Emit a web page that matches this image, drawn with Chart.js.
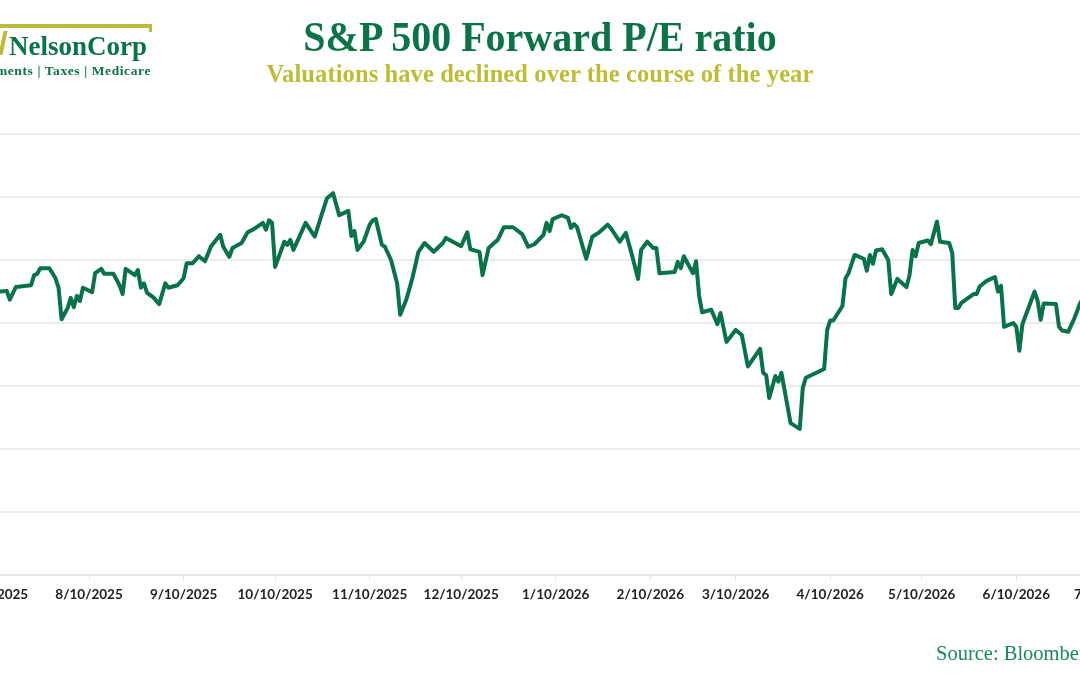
<!DOCTYPE html>
<html>
<head>
<meta charset="utf-8">
<script src="https://cdn.jsdelivr.net/npm/chart.js@4"></script>
<style>
  html, body { margin: 0; padding: 0; background: #fff; }
  body { width: 1080px; height: 675px; position: relative; overflow: hidden;
         font-family: "Liberation Serif", "Times New Roman", serif; }
  #wrap { position: absolute; left: -100px; top: 0; width: 1300px; height: 675px; }
  .txt { position: absolute; white-space: nowrap; font-weight: bold; line-height: 1; }
  #title { left: 0; width: 1080px; text-align: center; top: 17px; font-size: 40px; color: #0b7446;
           transform: scaleY(1.05); }
  #subtitle { left: 0; width: 1080px; text-align: center; top: 62px; font-size: 24.5px; color: #bdbd35;
              letter-spacing: 0.1px; }
  #logoBar { position: absolute; left: 0; top: 24px; width: 152px; height: 4px; background: #bcbc3a; }
  #logoTab { position: absolute; left: 149px; top: 24px; width: 3px; height: 8px; background: #bcbc3a; }
  #logoTick { position: absolute; left: 1px; top: 31px; width: 4px; height: 24px; background: #bcbc3a; transform: skewX(-12deg); }
  #logoName { left: 9px; top: 33px; font-size: 27px; color: #0b7446; }
  #logoSub { right: 929px; top: 64px; font-size: 13.5px; color: #0b7446; letter-spacing: 0.6px; }
  #source { left: 936px; top: 643px; font-size: 20.5px; font-weight: normal; color: #198a58; }
</style>
</head>
<body>
<div id="wrap"><canvas id="peChart" width="1300" height="675"></canvas></div>
<div id="logoBar"></div><div id="logoTab"></div><div id="logoTick"></div>
<div class="txt" id="logoName">NelsonCorp</div>
<div class="txt" id="logoSub">Investments | Taxes | Medicare</div>
<div class="txt" id="title">S&amp;P 500 Forward P/E ratio</div>
<div class="txt" id="subtitle">Valuations have declined over the course of the year</div>
<div class="txt" id="source">Source: Bloomberg</div>
<script>
// calendar days since 7/10/2025
const dayOffsets = [
  -5,2,4,5,7,12,13,14,15,18,
  20,21,22,24,25,26,27,28,29,32,
  33,35,36,39,41,42,43,46,47,48,
  49,50,52,54,56,57,60,62,63,65,
  67,69,71,74,75,77,78,81,83,85,
  88,89,90,91,92,95,96,97,98,102,
  105,107,109,111,113,116,117,118,119,121,
  123,124,125,127,128,130,132,133,135,137,
  139,141,144,147,148,153,155,156,159,160,
  162,165,167,170,173,175,177,180,181,182,
  183,186,188,189,190,191,194,196,198,201,
  202,205,207,209,211,212,214,216,217,218,
  223,224,225,226,229,230,231,232,235,237,
  238,240,243,245,247,251,252,253,254,256,
  257,258,261,264,265,266,272,273,274,275,
  278,279,280,282,285,286,287,288,289,291,
  293,294,296,299,300,301,302,303,306,307,
  309,310,313,314,315,316,317,321,322,323,
  325,328,329,330,331,334,335,336,337,341,
  342,343,344,348,349,350,352,354,356,359,
  362
];
const peValues = [
  19.52,19.50,19.51,19.37,19.57,19.60,19.76,19.78,19.87,19.87,
  19.71,19.56,19.06,19.24,19.40,19.25,19.43,19.35,19.56,19.49,
  19.79,19.86,19.78,19.78,19.60,19.46,19.86,19.76,19.84,19.56,
  19.63,19.48,19.41,19.30,19.63,19.56,19.60,19.71,19.95,19.95,
  20.06,19.98,20.22,20.40,20.21,20.05,20.19,20.27,20.44,20.49,
  20.59,20.48,20.63,20.59,19.89,20.29,20.24,20.32,20.16,20.59,
  20.37,20.68,20.98,21.06,20.71,20.78,20.38,20.46,20.16,20.29,
  20.56,20.63,20.65,20.24,20.21,20.00,19.63,19.13,19.37,19.71,
  20.13,20.27,20.13,20.27,20.35,20.22,20.44,20.17,20.13,19.76,
  20.19,20.32,20.52,20.52,20.41,20.21,20.25,20.40,20.59,20.46,
  20.65,20.71,20.67,20.51,20.57,20.52,20.02,20.37,20.43,20.56,
  20.51,20.29,20.43,20.08,19.70,20.16,20.29,20.19,20.19,19.79,
  19.81,19.97,19.87,20.06,19.79,19.98,19.44,19.17,19.21,18.98,
  19.16,18.70,18.89,18.81,18.31,18.59,18.21,18.17,17.81,18.16,
  18.07,18.21,17.41,17.32,17.97,18.13,18.27,18.89,19.04,19.04,
  19.27,19.71,19.79,20.08,20.02,19.83,20.08,19.94,20.15,20.17,
  20.00,19.46,19.70,19.57,19.76,20.16,20.06,20.27,20.31,20.25,
  20.61,20.29,20.27,20.11,19.24,19.24,19.32,19.46,19.46,19.58,
  19.66,19.73,19.50,19.59,18.94,19.00,18.94,18.56,18.98,19.50,
  19.35,19.05,19.31,19.30,18.94,18.88,18.86,19.07,19.32,19.55,
  19.60
];
const tickLabels = ["7/10/2025","8/10/2025","9/10/2025","10/10/2025","11/10/2025","12/10/2025",
  "1/10/2026","2/10/2026","3/10/2026","4/10/2026","5/10/2026","6/10/2026","7/10/2026"];
const yMin = 15, yMax = 22, yStep = 1;

const toDay = (s) => {
  const [m, d, y] = s.split("/").map(Number);
  return Math.round((Date.UTC(y, m - 1, d) - Date.UTC(2025, 6, 10)) / 86400000);
};
const tickDays = tickLabels.map(toDay);

new Chart(document.getElementById("peChart"), {
  type: "line",
  data: {
    datasets: [{
      data: dayOffsets.map((d, i) => ({ x: d, y: peValues[i] })),
      borderColor: "#087249",
      borderWidth: 4,
      pointRadius: 0,
      tension: 0,
      borderJoinStyle: "round",
      borderCapStyle: "round"
    }]
  },
  options: {
    responsive: false,
    animation: false,
    layout: { padding: { left: 94.5, right: 92.2, top: 134, bottom: 60 } },
    plugins: { legend: { display: false }, tooltip: { enabled: false } },
    scales: {
      x: {
        type: "linear",
        min: tickDays[0],
        max: tickDays[tickDays.length - 1],
        afterBuildTicks: (s) => { s.ticks = tickDays.map(v => ({ value: v })); },
        afterFit: (s) => { s.height = 40; },
        ticks: {
          autoSkip: false, maxRotation: 0, padding: 7,
          color: "#222",
          font: { family: "Lato", weight: "bold", size: 13.5 },
          callback: (v, i) => tickLabels[i]
        },
        grid: { drawOnChartArea: false, drawTicks: true, tickLength: 5, tickColor: "#e2e2e2" },
        border: { color: "#e6e6e6", width: 2 }
      },
      y: {
        min: yMin, max: yMax,
        afterFit: (s) => { s.width = 0; },
        ticks: { display: false, stepSize: yStep },
        grid: { color: "#ececec", lineWidth: 2, drawTicks: false },
        border: { display: false }
      }
    }
  }
});
</script>
</body>
</html>
